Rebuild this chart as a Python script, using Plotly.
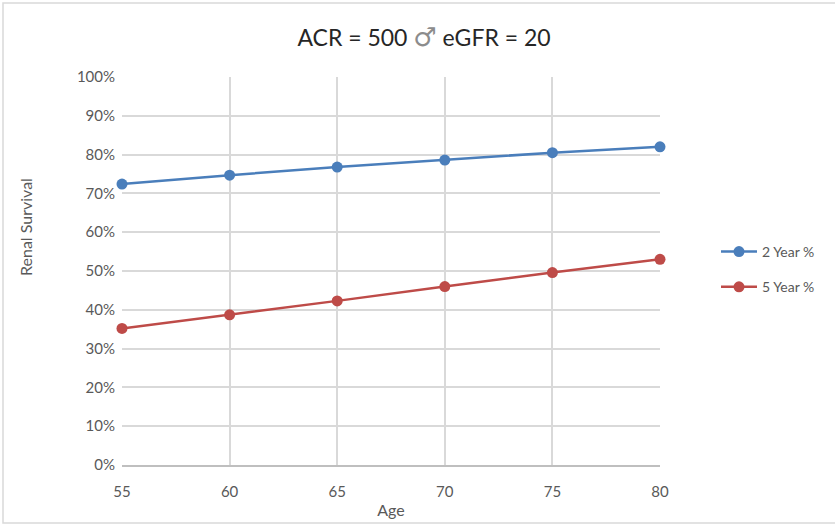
import plotly.graph_objects as go

# Age groups and renal survival (fraction) for ACR = 500, male, eGFR = 20
ages = [55, 60, 65, 70, 75, 80]
two_year = [0.724, 0.747, 0.768, 0.786, 0.805, 0.820]
five_year = [0.352, 0.387, 0.423, 0.460, 0.496, 0.530]
series_names = ["2 Year %", "5 Year %"]
series_colors = ["#4a7ebb", "#be4b48"]

FONT = "Lato, 'Open Sans', sans-serif"
GRID = "#d9d9d9"
TEXT = "#595959"

fig = go.Figure()
for name, vals, color in zip(series_names, [two_year, five_year], series_colors):
    fig.add_trace(go.Scatter(
        x=ages, y=vals, name=name, mode="lines+markers",
        legendgroup=name, cliponaxis=False,
        line=dict(color=color, width=2.5),
        marker=dict(color=color, size=11),
    ))

# plot area spans 122..660 px horizontally and 77..465 px vertically
L, R, T, B = 122, 175, 77, 60
W, H = 835, 525
pw, ph = W - L - R, H - T - B

def px_x(px):
    return (px - L) / pw

def px_y(py):
    return (H - B - py) / ph

title_text = ("ACR = 500 <span style=\"font-family:'DejaVu Sans';"
              "font-size:26px;color:#8c8c8c\">\u2642</span> eGFR = 20")

fig.update_layout(
    width=W, height=H,
    margin=dict(l=L, r=R, t=T, b=B, autoexpand=False),
    paper_bgcolor="white", plot_bgcolor="white",
    font=dict(family=FONT, color=TEXT, size=15),
    title=dict(text=title_text, x=424 / W, xanchor="center",
               y=1 - 38 / H, yanchor="middle",
               font=dict(family=FONT, size=23, color="#262626")),
    xaxis=dict(
        range=[55, 80], tickvals=ages, ticktext=[str(a) for a in ages],
        showgrid=True, gridcolor=GRID, gridwidth=1.5,
        showline=True, linecolor="#bfbfbf", linewidth=1.5,
        zeroline=False, ticks="", ticklabelstandoff=12, automargin=False,
        title=dict(text="Age", standoff=6, font=dict(size=16, color=TEXT)),
        tickfont=dict(size=15, color=TEXT),
    ),
    yaxis=dict(
        range=[0, 1], dtick=0.1, tickformat=".0%",
        showgrid=True, gridcolor=GRID, gridwidth=1.5,
        zeroline=False, showline=False, ticks="", ticklabelstandoff=6,
        automargin=False,
        tickfont=dict(size=15, color=TEXT),
    ),
    legend=dict(
        x=px_x(716), y=px_y(236), xanchor="left", yanchor="top",
        font=dict(size=14, color=TEXT), tracegroupgap=14, itemwidth=36,
        bgcolor="rgba(0,0,0,0)",
    ),
    showlegend=True,
)

# y-axis title placed as rotated text to the left of the tick labels
fig.add_annotation(text="Renal Survival", xref="paper", yref="paper",
                   x=px_x(26), y=px_y(227), textangle=-90, showarrow=False,
                   xanchor="center", yanchor="middle",
                   font=dict(size=16, color=TEXT, family=FONT))

# light chart-area border
fig.add_shape(type="rect", xref="paper", yref="paper",
              x0=px_x(3), x1=px_x(845), y0=px_y(523), y1=px_y(3),
              line=dict(color="#d9d9d9", width=1.5), layer="below")

fig.write_html("out.html")
